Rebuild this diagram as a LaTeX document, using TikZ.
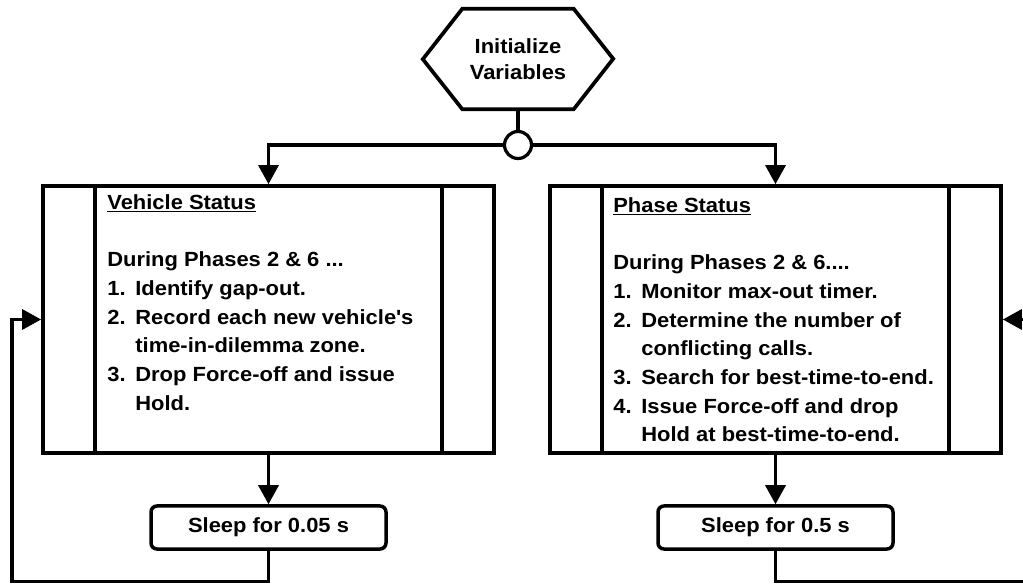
\documentclass[tikz,border=0pt]{standalone}
\usepackage{fontspec}
\setmainfont{Liberation Sans}[FakeStretch=1.07]
\usetikzlibrary{arrows.meta,positioning,calc}

\tikzset{
  hexnode/.style={minimum width=111pt,minimum height=100pt,inner sep=0pt,align=center,
    font=\bfseries\fontsize{20.5}{26}\selectfont},
  junction/.style={circle,draw,fill=white,line width=3.2pt,minimum size=27pt,inner sep=0pt},
  procbox/.style={draw,line width=3.7pt,minimum width=451pt,minimum height=267pt,inner sep=0pt},
  listtext/.style={anchor=north west,align=left,inner sep=0pt,
    font=\bfseries\fontsize{20.5}{28.7}\selectfont},
  sleepbox/.style={draw,line width=3.5pt,rounded corners=6pt,minimum width=235pt,
    minimum height=43pt,font=\bfseries\fontsize{20.5}{24}\selectfont},
  plain/.style={line width=3.2pt},
  flow/.style={line width=3.2pt,-{Triangle[length=19pt,width=20pt]}},
}
\newcommand{\num}[1]{\makebox[28pt][l]{#1}}
\newcommand{\cont}{\hspace*{28pt}}

\begin{document}
\begin{tikzpicture}[x=1pt,y=1pt]
  \useasboundingbox (0,0) rectangle (1023,584);
  \clip (0,0) rectangle (1023,584);

  % start
  \node[hexnode] (init) at (518,525) {Initialize\\Variables};
  \draw[line width=3.7pt] (init.north west) -- (init.north east) -- ++(39.5,-50)
    -- (init.south east) -- (init.south west) -- ++(-39.5,50) -- cycle;
  \node[junction] (split) at (518,439) {};
  \draw[plain] (init.south) -- (split.north);

  % the two tasks
  \node[procbox] (vehicle) at (268.5,264.5) {};
  \node[procbox] (phase) at (775.5,264.5) {};
  \foreach \b in {vehicle,phase} {
    \draw[line width=3.7pt] ($(\b.north west)+(54,0)$) -- ($(\b.south west)+(54,0)$);
    \draw[line width=3.7pt] ($(\b.north east)+(-54,0)$) -- ($(\b.south east)+(-54,0)$);}
  \draw[flow] (split.west) -| (vehicle.north);
  \draw[flow] (split.east) -| (phase.north);

  \node[listtext] (vehtext) at ($(vehicle.north west)+(66,-10)$) {%
    \underline{Vehicle Status}\\ \mbox{}\\
    During Phases 2 \& 6 ...\\
    \num{1.}Identify gap-out.\\
    \num{2.}Record each new vehicle\textquotesingle s\\
    \cont time-in-dilemma zone.\\
    \num{3.}Drop Force-off and issue\\
    \cont Hold.};
  \node[listtext] (phstext) at ($(phase.north west)+(65,-13)$) {%
    \underline{Phase Status}\\ \mbox{}\\
    During Phases 2 \& 6....\\
    \num{1.}Monitor max-out timer.\\
    \num{2.}Determine the number of\\
    \cont conflicting calls.\\
    \num{3.}Search for best-time-to-end.\\
    \num{4.}Issue Force-off and drop\\
    \cont Hold at best-time-to-end.};

  % sleep and loop back
  \node[sleepbox] (sleepV) at (268.5,56.5) {Sleep for 0.05 s};
  \node[sleepbox] (sleepP) at (775.5,56.5) {Sleep for 0.5 s};
  \draw[flow] (vehicle.south) -- (sleepV.north);
  \draw[flow] (phase.south) -- (sleepP.north);
  \coordinate (loopV) at (12,2.5);
  \coordinate (loopP) at (1040,2.5);
  \draw[flow] (sleepV.south) |- (loopV) |- (vehicle.west);
  \draw[flow] (sleepP.south) |- (loopP) |- (phase.east);
\end{tikzpicture}
\end{document}
